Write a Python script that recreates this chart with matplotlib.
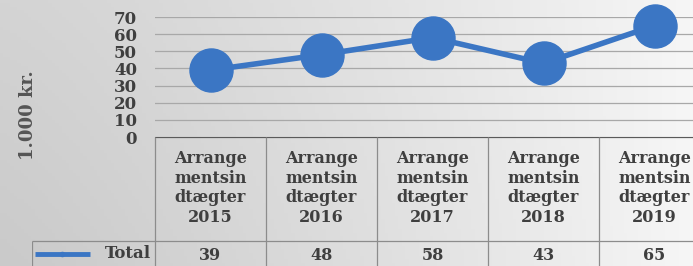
import numpy as np
import matplotlib.pyplot as plt

categories = ['Arrange\nmentsin\ndtægter\n2015', 'Arrange\nmentsin\ndtægter\n2016',
              'Arrange\nmentsin\ndtægter\n2017', 'Arrange\nmentsin\ndtægter\n2018',
              'Arrange\nmentsin\ndtægter\n2019']
totals = [39, 48, 58, 43, 65]
series_name = 'Total'
y_ticks = [0, 10, 20, 30, 40, 50, 60, 70]
y_label = '1.000 kr.'

W, H = 693, 266
BLUE = '#3b76c4'
TXT = '#3f3f3f'
FONT = 'DejaVu Serif'

fig = plt.figure(figsize=(W / 100, H / 100), dpi=100)

# gradient background, lighter towards the upper right
bg = fig.add_axes((0, 0, 1, 1), zorder=-10)
gx, gy = np.meshgrid(np.linspace(0, 1, 200), np.linspace(0, 1, 80))
shade = (212 + 34 * gx ** 1.3 - 10 * gy * (1 - gx)) / 255
bg.imshow(np.dstack([shade] * 3), aspect='auto', extent=(0, 1, 0, 1), origin='upper')
bg.axis('off')

# plot area (column width ~111 px, y0 at 137 px, 70 at 17 px)
col_w = 111
x0_px, y0_px, ytop_px = 155, 137, 17
n = len(categories)
ax = fig.add_axes((x0_px / W, (H - y0_px) / H, n * col_w / W, (y0_px - ytop_px) / H))
ax.patch.set_visible(False)
xs = np.arange(n)
ax.set_xlim(-0.5, n - 0.5)
ax.set_ylim(0, 70)
ax.set_yticks(y_ticks)
ax.set_yticklabels([str(t) for t in y_ticks], fontfamily=FONT, fontweight='bold', fontsize=12, color=TXT)
ax.tick_params(axis='y', length=0, pad=13)
ax.set_xticks([])
for s in ax.spines.values():
    s.set_visible(False)
ax.grid(axis='y', color='#a8a8a8', linewidth=0.9)
ax.set_axisbelow(True)
ax.plot(xs, totals, color=BLUE, linewidth=4, marker='o', markersize=31, clip_on=False, zorder=3)

fig.text(28 / W, 1 - 115 / H, y_label, rotation=90, ha='center', va='center',
         fontfamily=FONT, fontweight='bold', fontsize=13, color='#555555')

# data table under the plot, y measured in pixels down from the zero line
left_px = 32
tab_h = H - y0_px
tab = fig.add_axes((left_px / W, 0, (x0_px - left_px + n * col_w) / W, tab_h / H))
tab.axis('off')
tab.patch.set_visible(False)
x_left = -0.5 - (x0_px - left_px) / col_w
tab.set_xlim(x_left, n - 0.5)
tab.set_ylim(tab_h, 0)
row_y = 104
tab.hlines(0, -0.5, n - 0.5, color='#5a5a5a', linewidth=1.6)
tab.hlines(row_y, x_left, n - 0.5, color='#8c8c8c', linewidth=0.9)
tab.vlines(np.arange(n) - 0.5, 0, tab_h, color='#8c8c8c', linewidth=0.9)
tab.vlines(x_left, row_y, tab_h, color='#8c8c8c', linewidth=0.9)

for i, (lab, val) in enumerate(zip(categories, totals)):
    tab.text(i, 51, lab, ha='center', va='center', fontfamily=FONT, fontweight='bold',
             fontsize=11.5, color=TXT, linespacing=1.22)
    tab.text(i, 118, str(val), ha='center', va='center', fontfamily=FONT, fontweight='bold',
             fontsize=11.5, color=TXT)

key_y = 117
tab.plot([x_left + 3 / col_w, x_left + 58 / col_w], [key_y, key_y], color=BLUE, linewidth=3.5,
         solid_capstyle='butt')
tab.plot([x_left + 30 / col_w], [key_y], color=BLUE, marker='o', markersize=3)
tab.text(-0.5 - 4 / col_w, 116, series_name, ha='right', va='center', fontfamily=FONT,
         fontweight='bold', fontsize=12, color=TXT)

fig.savefig('out.png', dpi=100)
